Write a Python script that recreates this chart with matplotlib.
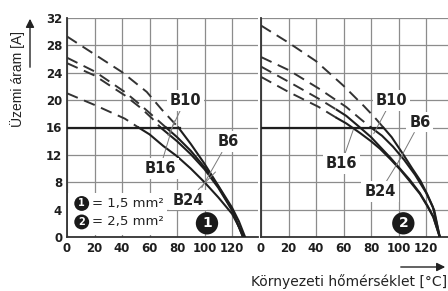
import matplotlib.pyplot as plt
from matplotlib.patches import Rectangle, FancyArrowPatch

plt.rcParams['font.family'] = ['DejaVu Sans']

# panel 1: 1,5 mm2  (dashed part above ~16 A, solid part below)
p1_dash_t = [[0, 20, 40, 58, 69, 75, 81],
             [0, 20, 42, 54, 63, 72],
             [0, 20, 42, 54, 62, 68],
             [0, 20, 42, 52]]
p1_dash_i = [[29.3, 26.7, 24.1, 21.2, 18.6, 17.3, 16.0],
             [26.2, 24.2, 21.2, 19.2, 17.6, 16.0],
             [25.4, 23.6, 20.7, 18.8, 17.3, 16.0],
             [21.0, 19.3, 17.3, 16.0]]
p1_solid_t = [[81, 90, 100, 110, 120, 125, 129.5],
              [72, 80, 90, 100, 110, 120, 128],
              [68, 80, 90, 100, 110, 120, 128],
              [52, 60, 70, 80, 90, 100, 110, 120, 129]]
p1_solid_i = [[16.0, 13.6, 10.7, 7.5, 4.3, 2.3, 0],
              [16.0, 14.6, 12.6, 10.2, 7.4, 4.0, 0],
              [16.0, 14.0, 12.1, 9.9, 7.2, 3.9, 0],
              [16.0, 15.0, 13.3, 11.8, 10.0, 8.0, 5.8, 3.4, 0]]
p1_limit_t = [0, 82]

# panel 2: 2,5 mm2
p2_dash_t = [[0, 20, 40, 60, 75, 83, 89],
             [0, 20, 42, 62, 72, 80],
             [0, 20, 42, 55],
             [0, 20, 42, 55]]
p2_dash_i = [[30.9, 28.4, 25.7, 22.1, 19.1, 17.4, 16.0],
             [26.3, 24.4, 21.7, 19.0, 17.3, 16.0],
             [24.9, 22.7, 20.2, 18.6],
             [23.4, 21.2, 19.0, 17.4]]
p2_solid_t = [[89, 95, 103, 110, 116, 121, 125, 130],
              [80, 88, 96, 104, 112, 120, 126, 130],
              [55, 62, 72, 80, 86.5, 94, 101, 108, 115.6, 121, 125.3, 130],
              [55, 62, 72, 80, 86.5, 94, 101, 108, 115.6, 121, 125.3, 130]]
p2_solid_i = [[16.0, 14.6, 12.2, 10.0, 8.2, 6.2, 4.4, 0],
              [16.0, 14.8, 13.2, 11.3, 9.1, 6.5, 3.9, 0],
              [18.6, 17.7, 16.0, 14.6, 13.2, 11.6, 10.0, 8.4, 6.4, 4.6, 3.0, 0],
              [17.4, 16.6, 15.2, 14.0, 12.9, 11.4, 9.9, 8.2, 6.3, 4.5, 2.9, 0]]
p2_limit_t = [0, 89]
limit_i = 16

labels = ['B10', 'B6', 'B16', 'B24']
p1_lab_pos = [(86, 20), (117, 13.9), (67.6, 10), (88, 5.4)]
p1_lab_pt = [(73.5, 14.8), (98, 7.2), (78, 17), (108, 9.5)]
p2_lab_pos = [(95, 20), (115.6, 16.8), (58.7, 10.8), (86.5, 6.6)]
p2_lab_pt = [(82, 15.1), (100, 11.0), (67, 15.6), (103, 12.0)]

xticks = [0, 20, 40, 60, 80, 100, 120]
yticks = [0, 4, 8, 12, 16, 20, 24, 28, 32]

fig = plt.figure(figsize=(4.48, 2.91), dpi=100)
ax1 = fig.add_axes([67/448, 1-237/291, 191/448, 219/291])
ax2 = fig.add_axes([261/448, 1-237/291, 187/448, 219/291])

line_col = '#1e1e1e'


def draw_panel(ax, dt, di, st, si, lim_t, lab_pos, lab_pt, xmax, num):
    ax.set_xlim(0, xmax)
    ax.set_ylim(0, 32)
    ax.set_xticks(xticks)
    ax.set_yticks(yticks)
    ax.set_axisbelow(True)
    ax.grid(True, color='#8c8c8c', lw=0.9)
    for s in ['top', 'right']:
        ax.spines[s].set_visible(False)
    for s in ['left', 'bottom']:
        ax.spines[s].set_color('#333333')
        ax.spines[s].set_linewidth(1.3)
    ax.tick_params(length=0, pad=3.5, labelsize=8.5, colors='#1e1e1e')
    for t in ax.get_xticklabels() + ax.get_yticklabels():
        t.set_fontweight('bold')
    for t, i in zip(dt, di):
        ax.plot(t, i, color='#333333', lw=1.4, dashes=(6, 3.5), zorder=3)
    for t, i in zip(st, si):
        ax.plot(t, i, color=line_col, lw=1.5, zorder=3)
    ax.plot(lim_t, [limit_i, limit_i], color=line_col, lw=1.6, zorder=3)
    for lab, pos, pt in zip(labels, lab_pos, lab_pt):
        ax.annotate(lab, xy=pt, xytext=pos, ha='center', va='center',
                    fontsize=10.5, fontweight='bold', color='#222222',
                    bbox=dict(boxstyle='square,pad=0.2', fc='white', ec='none'),
                    arrowprops=dict(arrowstyle='-', color='#7a7a7a', lw=0.7,
                                    shrinkA=0, shrinkB=0),
                    zorder=4)
    ax.text(num[0], num[1], num[2], ha='center', va='center', fontsize=10,
            fontweight='bold', color='white', zorder=5,
            bbox=dict(boxstyle='circle,pad=0.3', fc='#1a1a1a', ec='none'))


draw_panel(ax1, p1_dash_t, p1_dash_i, p1_solid_t, p1_solid_i, p1_limit_t,
           p1_lab_pos, p1_lab_pt, 138.9, (101.8, 2, '1'))
draw_panel(ax2, p2_dash_t, p2_dash_i, p2_solid_t, p2_solid_i, p2_limit_t,
           p2_lab_pos, p2_lab_pt, 136, (103.5, 2, '2'))
ax2.set_yticklabels([])

# legend block on panel 1
ax1.add_patch(Rectangle((0.6, 0.3), 72, 6.2, fc='white', ec='none', zorder=1))
for y, n, txt in [(4.9, '1', '= 1,5 mm²'), (2.2, '2', '= 2,5 mm²')]:
    ax1.text(10.7, y, n, ha='center', va='center', fontsize=7,
             fontweight='bold', color='white', zorder=5,
             bbox=dict(boxstyle='circle,pad=0.25', fc='#1a1a1a', ec='none'))
    ax1.text(18.5, y, txt, ha='left', va='center', fontsize=9.5,
             color='#222222', zorder=5)

# axis titles with arrows
fig.text(18/448, 1-79/291, 'Üzemi áram [A]', rotation=90, ha='center',
         va='center', fontsize=10, color='#222222',
         family=['Liberation Sans', 'DejaVu Sans'])
fig.add_artist(FancyArrowPatch(
    (30/448, 1-70/291), (30/448, 1-16/291), transform=fig.transFigure,
    arrowstyle='-|>,head_length=5,head_width=2.5', color='#222222', lw=1.0))
fig.text(447/448, 1-282/291, 'Környezeti hőmérséklet [°C]', ha='right',
         va='center', fontsize=10, color='#222222')
fig.add_artist(FancyArrowPatch(
    (398/448, 1-267/291), (448/448, 1-267/291), transform=fig.transFigure,
    arrowstyle='-|>,head_length=5,head_width=2.5', color='#222222', lw=1.0))

fig.savefig('out.png', dpi=100)
